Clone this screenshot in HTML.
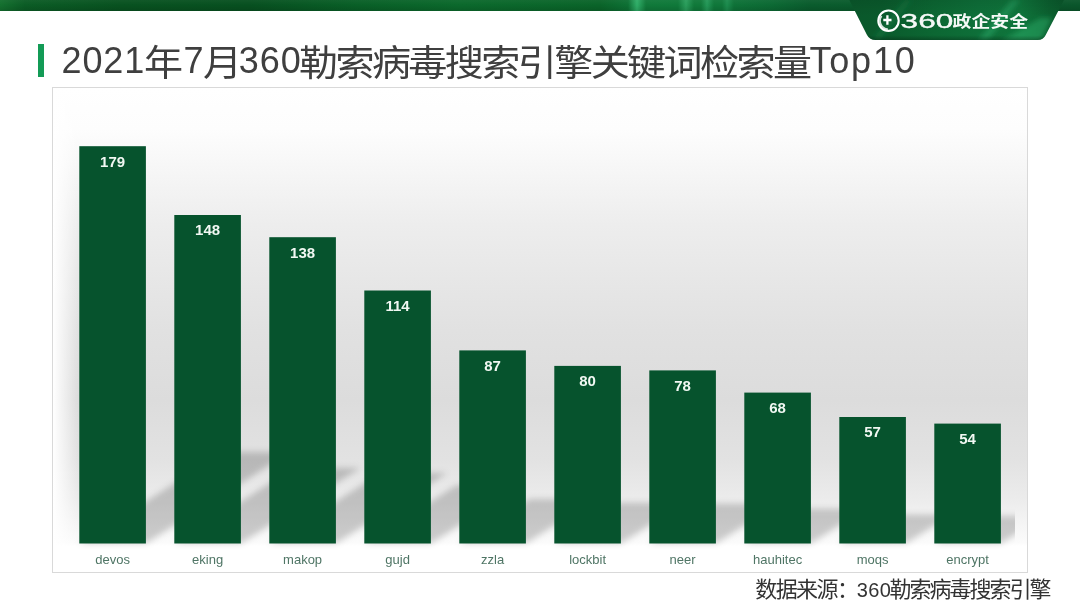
<!DOCTYPE html>
<html lang="zh-CN">
<head>
<meta charset="utf-8">
<title>2021年7月360勒索病毒搜索引擎关键词检索量Top10</title>
<style>
html,body{margin:0;padding:0;background:#fff;}
body{width:1080px;height:608px;position:relative;overflow:hidden;font-family:"Liberation Sans","Noto Sans CJK SC",sans-serif;}
#band{position:absolute;left:0;top:0;width:1080px;height:11px;
 background:linear-gradient(180deg,rgba(255,255,255,0.04) 0,rgba(0,0,0,0) 5px,rgba(0,0,0,0.12) 11px),linear-gradient(90deg,#14702f 0px,#0b5c25 25px,#085220 120px,#075020 250px,#096027 360px,#0b692c 460px,#0a6429 600px,#0d7034 628px,#2fae68 637px,#10793a 646px,#0f793a 678px,#2a9e5c 686px,#10793a 694px,#10793a 701px,#249858 707px,#0f773a 714px,#0f773a 722px,#1c8c4e 727px,#0e7238 734px,#0c6a34 770px,#0a5c2d 810px,#0a562b 1080px);}
#tab{position:absolute;left:0;top:0;}
#tbar{position:absolute;left:38px;top:44px;width:6px;height:33px;background:#139b56;}
#title{position:absolute;left:0;top:36px;width:1000px;height:50px;line-height:50px;color:#3f3f3f;white-space:nowrap;}
#title span{position:absolute;top:0;display:block;height:50px;line-height:50px;}
#title .l{font-size:36px;}
#title .c{font-size:36.5px;top:2.5px;letter-spacing:-2.43px;transform:scaleX(1.07);transform-origin:left center;}
#chart{position:absolute;left:0;top:0;}
#src{position:absolute;left:755.3px;top:574.5px;height:30px;line-height:30px;color:#333;white-space:nowrap;}
#src .c{font-size:22px;letter-spacing:-1.6px;}
#src .c2{font-size:22px;letter-spacing:-2px;}
#src .l{font-size:20px;letter-spacing:0.4px;margin-left:-0.5px;margin-right:-1.8px;}
</style>
</head>
<body>
<div id="band"></div>
<svg id="tab" width="1080" height="50" viewBox="0 0 1080 50">
 <defs>
  <linearGradient id="tg" x1="849" y1="0" x2="1064" y2="0" gradientUnits="userSpaceOnUse">
   <stop offset="0" stop-color="#0a582b"/><stop offset="0.15" stop-color="#0a5a2c"/><stop offset="0.4" stop-color="#0c6733"/><stop offset="0.6" stop-color="#0e6f39"/><stop offset="0.8" stop-color="#0f743b"/><stop offset="0.93" stop-color="#0b5f2f"/><stop offset="1" stop-color="#0a572b"/>
  </linearGradient>
  <linearGradient id="tv" x1="0" y1="0" x2="0" y2="40" gradientUnits="userSpaceOnUse">
   <stop offset="0" stop-color="#000" stop-opacity="0.08"/><stop offset="0.4" stop-color="#000" stop-opacity="0"/><stop offset="0.88" stop-color="#000" stop-opacity="0"/><stop offset="1" stop-color="#000" stop-opacity="0.25"/>
  </linearGradient>
  <filter id="sb" x="-20%" y="-20%" width="140%" height="140%"><feGaussianBlur stdDeviation="2.5"/></filter>
  <clipPath id="tc"><path d="M849.3 0 L1064 0 L1045.7 35 Q1043.3 40 1037.5 40 L875.5 40 Q869.7 40 867 35 Z"/></clipPath>
 </defs>
 <g clip-path="url(#tc)">
  <rect x="840" y="0" width="240" height="41" fill="url(#tg)"/>
  <g filter="url(#sb)">
   <polygon points="1012,0 1020,0 988,40 978,40" fill="#2aa566" fill-opacity="0.55"/>
   <polygon points="1040,18 1052,18 1040,42 1000,42" fill="#2bb06a" fill-opacity="0.48"/>
   <polygon points="905,0 912,0 880,40 872,40" fill="#1c8a4e" fill-opacity="0.35"/>
  </g>
  <rect x="840" y="0" width="240" height="41" fill="url(#tv)"/>
 </g>
 <g fill="none" stroke="#fff">
  <circle cx="888.5" cy="20.7" r="10.2" stroke-width="2.1"/>
  <path d="M887.8 29.1 A8.4 8.4 0 0 1 881.6 15.9" stroke-width="1.7" stroke-opacity="0.85"/>
  <path d="M883.3 20h8.2M887.4 15.3v9.4" stroke-width="2.3"/>
 </g>
 <g fill="#fff" fill-opacity="0.96">
 <text transform="translate(900.6 27.8) scale(1.61 1)" font-family="'Liberation Sans',sans-serif" font-size="19.6" stroke="#fff" stroke-width="0.45" style="vector-effect:non-scaling-stroke">360</text>
 <text transform="translate(952.6 26.9) scale(1.18 1)" font-family="'Liberation Sans','Noto Sans CJK SC',sans-serif" font-size="16" font-weight="700">政企安全</text>
 </g>
</svg>
<div id="tbar"></div>
<div id="title"><span class="l" style="left:61.5px;letter-spacing:0.9px">2021</span><span class="c" style="left:144.2px">年</span><span class="l" style="left:183.5px">7</span><span class="c" style="left:202.5px">月</span><span class="l" style="left:238.8px;letter-spacing:1px">360</span><span class="c" style="left:299.0px">勒索病毒搜索引擎关键词检索量</span><span class="l" style="left:809.5px;letter-spacing:1.8px">Top10</span></div>
<svg id="chart" width="1080" height="608" viewBox="0 0 1080 608">
 <defs>
  <linearGradient id="cg" x1="0" y1="88" x2="0" y2="546" gradientUnits="userSpaceOnUse">
   <stop offset="0" stop-color="#ffffff"/>
   <stop offset="0.09" stop-color="#fdfdfd"/>
   <stop offset="0.30" stop-color="#ededed"/>
   <stop offset="0.53" stop-color="#e1e1e1"/>
   <stop offset="0.68" stop-color="#dcdcdc"/>
   <stop offset="0.81" stop-color="#e2e2e2"/>
   <stop offset="0.90" stop-color="#ececec"/>
   <stop offset="0.993" stop-color="#fbfbfb"/>
   <stop offset="1" stop-color="#ffffff"/>
  </linearGradient>
  <linearGradient id="lg" x1="0" y1="0" x2="1" y2="0">
   <stop offset="0" stop-color="#fff" stop-opacity="1"/>
   <stop offset="1" stop-color="#fff" stop-opacity="0"/>
  </linearGradient>
  <filter id="bl" x="-5%" y="-20%" width="110%" height="140%"><feGaussianBlur stdDeviation="3"/></filter>
  <clipPath id="cp"><rect x="53" y="88" width="962" height="470"/></clipPath>
 </defs>
 <rect x="52.5" y="87.5" width="975" height="485" fill="#fff" stroke="#d9d9d9" stroke-width="1"/>
 <rect x="53" y="88" width="974" height="458" fill="url(#cg)"/>
 <rect x="53" y="88" width="25" height="458" fill="url(#lg)"/>
 <g clip-path="url(#cp)"><g filter="url(#bl)" fill="#000" fill-opacity="0.19">
  <polygon points="79.3,543.5 145.9,543.5 290.5,452.1 223.9,452.1"/>
<polygon points="174.3,543.5 240.9,543.5 360.5,467.9 293.9,467.9"/>
<polygon points="269.3,543.5 335.9,543.5 447.4,473.1 380.8,473.1"/>
<polygon points="364.3,543.5 430.9,543.5 523.0,485.3 456.4,485.3"/>
<polygon points="459.3,543.5 525.9,543.5 596.2,499.1 529.6,499.1"/>
<polygon points="554.3,543.5 620.9,543.5 685.5,502.7 618.9,502.7"/>
<polygon points="649.3,543.5 715.9,543.5 778.9,503.7 712.3,503.7"/>
<polygon points="744.3,543.5 810.9,543.5 865.8,508.8 799.2,508.8"/>
<polygon points="839.3,543.5 905.9,543.5 952.0,514.4 885.4,514.4"/>
<polygon points="934.3,543.5 1000.9,543.5 1044.5,515.9 977.9,515.9"/>
 </g></g>
 <g fill="#06532d">
  <rect x="79.3" y="146.2" width="66.6" height="397.3"/>
<rect x="174.3" y="215.0" width="66.6" height="328.5"/>
<rect x="269.3" y="237.2" width="66.6" height="306.3"/>
<rect x="364.3" y="290.5" width="66.6" height="253.0"/>
<rect x="459.3" y="350.4" width="66.6" height="193.1"/>
<rect x="554.3" y="365.9" width="66.6" height="177.6"/>
<rect x="649.3" y="370.4" width="66.6" height="173.1"/>
<rect x="744.3" y="392.6" width="66.6" height="150.9"/>
<rect x="839.3" y="417.0" width="66.6" height="126.5"/>
<rect x="934.3" y="423.6" width="66.6" height="119.9"/>
 </g>
 <g font-family="'Liberation Sans',sans-serif" font-size="15" font-weight="bold" fill="#f1f8f3" text-anchor="middle">
  <text x="112.6" y="166.5">179</text>
<text x="207.6" y="235.3">148</text>
<text x="302.6" y="257.5">138</text>
<text x="397.6" y="310.8">114</text>
<text x="492.6" y="370.7">87</text>
<text x="587.6" y="386.2">80</text>
<text x="682.6" y="390.7">78</text>
<text x="777.6" y="412.9">68</text>
<text x="872.6" y="437.3">57</text>
<text x="967.6" y="443.9">54</text>
 </g>
 <g font-family="'Liberation Sans',sans-serif" font-size="13" fill="#4f7565" text-anchor="middle">
  <text x="112.6" y="563.5">devos</text>
<text x="207.6" y="563.5">eking</text>
<text x="302.6" y="563.5">makop</text>
<text x="397.6" y="563.5">gujd</text>
<text x="492.6" y="563.5">zzla</text>
<text x="587.6" y="563.5">lockbit</text>
<text x="682.6" y="563.5">neer</text>
<text x="777.6" y="563.5">hauhitec</text>
<text x="872.6" y="563.5">moqs</text>
<text x="967.6" y="563.5">encrypt</text>
 </g>
</svg>
<div id="src"><span class="c">数据来源：</span><span class="l">360</span><span class="c2">勒索病毒搜索引擎</span></div>
</body>
</html>
